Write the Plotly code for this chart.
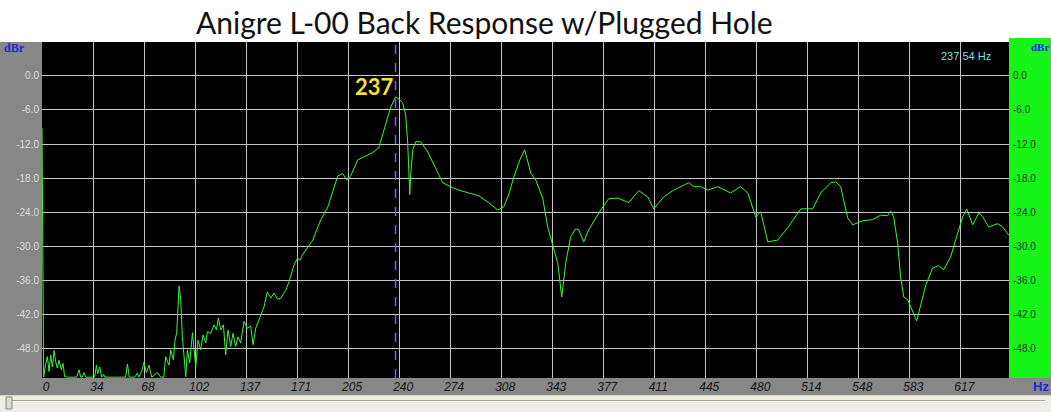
import plotly.graph_objects as go

# ---------------- data ----------------
title_text = "Anigre L-00 Back Response w/Plugged Hole"
cursor_hz = 237.54
cursor_label = "237"
cursor_readout = "237.54 Hz"

freq_hz = [0, 1.1, 2.5, 3.6, 4.7, 5.8, 7.0, 8.1, 9.2, 10.3, 11.4, 13.0, 14.1, 15.2, 16.6,
           23.3, 24.9, 26.0, 27.0, 28.2, 29.4, 35.4, 36.6, 37.4, 38.8, 40.1, 41.5, 42.1,
           56.2, 57.4, 58.6, 62.3, 64.1, 65.0, 67.0, 68.5, 70.1, 71.9, 73.7, 77.5, 79.8,
           81.8, 83.1, 85.3, 86.5, 88.3, 89.4, 90.5, 92.1, 93.2, 94.3, 95.4, 96.6, 97.7,
           99.2, 101.1, 102.1, 103.3, 104.8, 106.6, 108.2, 110.0, 111.1, 113.4, 115.6,
           117.2, 118.5, 120.1, 121.9, 123.4, 125.0, 126.8, 128.3, 130.1, 131.7, 133.5,
           135.7, 138.0, 140.2, 141.8, 143.6, 146.9, 149.2, 151.4, 153.7, 155.9, 158.2,
           160.4, 163.8, 166.0, 169.3, 171.6, 173.4, 175.0, 177.2, 181.9, 187.3, 192.0,
           195.3, 198.7, 202.1, 204.7, 207.4, 212.1, 217.5, 222.2, 226.2, 228.9, 230.9,
           234.3, 237.6, 240.3, 242.3, 244.4, 245.7, 246.4, 247.1, 247.7, 249.1, 251.1,
           254.4, 259.2, 262.5, 265.9, 269.2, 274.6, 280.0, 286.7, 293.4, 300.1, 306.2,
           310.2, 313.6, 317.0, 321.0, 324.3, 328.4, 331.7, 336.4, 339.8, 343.8, 346.5,
           349.2, 351.9, 355.2, 358.6, 360.6, 364.0, 367.3, 375.4, 380.8, 386.8, 394.2,
           400.9, 407.0, 411.0, 417.7, 423.8, 434.5, 437.9, 442.6, 447.3, 454.0, 462.7,
           469.4, 474.2, 479.5, 482.9, 487.6, 494.3, 501.1, 509.8, 517.8, 523.2, 529.9,
           533.3, 536.6, 541.3, 544.7, 551.4, 558.1, 563.5, 568.2, 570.2, 572.2, 574.9,
           576.9, 579.0, 581.7, 583.7, 585.7, 587.7, 590.4, 593.8, 598.4, 602.5, 605.8,
           610.5, 615.3, 618.6, 621.3, 625.3, 629.4, 632.0, 636.1, 642.1, 645.5, 649.5]

level_dbr = [-9.2, -53, -50.6, -49.4, -52.0, -49.1, -51.2, -48.3, -50.3, -51.4, -50.0, -51.7,
             -50.6, -52.9, -53, -53, -51.7, -53, -53, -52.2, -53, -53, -50.9, -52.4, -51.2,
             -53, -52.5, -53, -53, -50.7, -53, -53, -52.3, -53, -52.0, -50.4, -52.2, -50.9,
             -53, -52.2, -53, -53, -49.4, -50.9, -48.2, -50.0, -46.5, -45.2, -36.95, -39.4,
             -45.9, -50.0, -52.9, -48.2, -50.5, -45.2, -47.6, -51.2, -46.5, -48.2, -45.6,
             -47.0, -45.0, -45.3, -43.8, -44.7, -42.6, -44.7, -43.8, -49.1, -44.7, -47.6,
             -45.3, -47.6, -45.9, -47.0, -43.2, -44.4, -44.0, -47.3, -44.4, -42.1, -40.6,
             -38.0, -39.1, -38.2, -39.3, -39.1, -37.7, -36.2, -33.3, -32.1, -32.4, -31.5,
             -30.6, -28.9, -25.3, -23.1, -20.4, -17.6, -17.2, -18.3, -17.6, -14.8, -14.1,
             -13.5, -12.7, -10.4, -8.6, -5.5, -3.7, -4.2, -4.75, -6.9, -11.8, -16.5, -20.9,
             -17.4, -13.0, -11.6, -11.6, -13.4, -15.1, -17.1, -18.8, -19.5, -20.1, -20.6,
             -21.1, -22.3, -23.6, -23.05, -20.9, -17.8, -14.8, -13.0, -17.1, -18.3, -21.5,
             -26.6, -30.3, -32.9, -38.9, -32.9, -28.3, -26.9, -27.1, -29.2, -27.1, -23.6,
             -21.6, -21.5, -22.3, -20.2, -21.3, -23.4, -21.3, -20.2, -18.8, -19.5, -19.5,
             -20.1, -19.5, -20.6, -19.5, -20.6, -24.8, -23.9, -29.2, -28.9, -26.7, -23.4,
             -23.4, -20.6, -18.8, -18.65, -19.5, -25.0, -26.2, -25.5, -25.3, -24.5, -24.6,
             -23.75, -24.8, -29.4, -35.4, -38.9, -39.4, -40.6, -42.1, -43.1, -40.3, -36.8,
             -33.8, -33.4, -34.1, -31.85, -27.6, -24.8, -23.4, -26.2, -24.1, -24.8, -26.6,
             -26.0, -26.6, -28.0]

x_tick_vals = [k * 34.28 for k in range(19)]
x_tick_text = ["0", "34", "68", "102", "137", "171", "205", "240", "274", "308", "343",
               "377", "411", "445", "480", "514", "548", "583", "617"]
y_tick_vals = [6, 0, -6, -12, -18, -24, -30, -36, -42, -48]
y_tick_text = ["6.0", "0.0", "-6.0", "-12.0", "-18.0", "-24.0", "-30.0", "-36.0", "-42.0", "-48.0"]

x_range = [0, 649.7]
y_range = [-53.15, 5.95]

# ---------------- layout geometry ----------------
W, H = 1051, 412
L, R, T, B = 42, 42, 42, 34
PW, PH = W - L - R, H - T - B


def px(x):
    return (x - L) / PW


def py(y):
    return (H - B - y) / PH


def rect(x0, y0, x1, y1, fill, layer="below", line=None):
    return dict(type="rect", xref="paper", yref="paper",
                x0=px(x0), x1=px(x1), y0=py(y1), y1=py(y0),
                fillcolor=fill, line=line or dict(width=0), layer=layer)


fig = go.Figure()
fig.add_trace(go.Scatter(x=freq_hz, y=level_dbr, mode="lines",
                         line=dict(color="#3cf53c", width=1),
                         showlegend=False, hoverinfo="x+y"))
fig.add_trace(go.Scatter(x=[freq_hz[0]], y=[None], yaxis="y2", mode="lines",
                         showlegend=False, hoverinfo="skip"))

shapes = [
    rect(0, 0, W, T - 4, "#ffffff", layer="above"),
    rect(0, T - 4, L + PW, T, "#ffffff", layer="below"),
    rect(L + PW, T - 4, W, H - B, "#17f417"),
    rect(0, 395, W, H, "#efede4"),
    dict(type="line", xref="paper", yref="paper", x0=px(0), x1=px(W), y0=py(395.5), y1=py(395.5),
         line=dict(color="#d6d2c4", width=1), layer="below"),
    dict(type="line", xref="paper", yref="paper", x0=px(12), x1=px(1045), y0=py(400.5), y1=py(400.5),
         line=dict(color="#a4a4a0", width=1), layer="below"),
    dict(type="line", xref="paper", yref="paper", x0=px(12), x1=px(1045), y0=py(401.5), y1=py(401.5),
         line=dict(color="#ffffff", width=1), layer="below"),
    rect(6, 397, 12, 409, "#dcdcd6", line=dict(color="#7c8c7c", width=1)),
    dict(type="line", xref="x", yref="paper", x0=cursor_hz, x1=cursor_hz, y0=0, y1=1,
         line=dict(color="#7b5cff", width=1.5, dash="dash"), layer="above"),
]

annotations = [
    dict(text=title_text, xref="paper", yref="paper", x=px(484), y=py(22),
         xanchor="center", yanchor="middle", showarrow=False,
         font=dict(family="Lato", size=30, color="#111111")),
    dict(text=cursor_label, xref="x", yref="paper", x=cursor_hz, xshift=-21, y=py(87),
         xanchor="center", yanchor="middle", showarrow=False,
         font=dict(family="Lato", size=22, color="#f4e234", weight="bold")),
    dict(text=cursor_readout, xref="paper", yref="paper", x=px(993), y=py(56),
         xanchor="right", yanchor="middle", showarrow=False,
         font=dict(family="Liberation Sans", size=11, color="#7fdfe6")),
    dict(text="dBr", xref="paper", yref="paper", x=px(2), y=py(47.5),
         xanchor="left", yanchor="middle", showarrow=False,
         font=dict(family="Liberation Serif", size=12, color="#2424e0", weight="bold")),
    dict(text="dBr", xref="paper", yref="paper", x=px(1029), y=py(47),
         xanchor="left", yanchor="middle", showarrow=False,
         font=dict(family="Liberation Serif", size=11, color="#2424e0", weight="bold")),
    dict(text="Hz", xref="paper", yref="paper", x=px(1031), y=py(386),
         xanchor="left", yanchor="middle", showarrow=False,
         font=dict(family="Liberation Sans", size=13, color="#2424e0", weight="bold")),
]

fig.update_layout(
    width=W, height=H,
    margin=dict(l=L, r=R, t=T, b=B, pad=0),
    paper_bgcolor="#878787",
    plot_bgcolor="#000000",
    shapes=shapes,
    annotations=annotations,
    showlegend=False,
    xaxis=dict(range=x_range, tickvals=x_tick_vals, ticktext=x_tick_text,
               showgrid=True, gridcolor="#c4c4c4", gridwidth=1, zeroline=False,
               showline=False, ticks="", ticklabelshift=4, ticklabelstandoff=0,
               tickfont=dict(family="Liberation Sans Narrow, Liberation Sans", size=12,
                             color="#151515", style="italic"),
               fixedrange=True),
    yaxis=dict(range=y_range, tickvals=y_tick_vals, ticktext=y_tick_text,
               showgrid=True, gridcolor="#c4c4c4", gridwidth=1, zeroline=False,
               showline=False, ticks="", ticklabelstandoff=2,
               tickfont=dict(family="Liberation Sans", size=10, color="#dcdcdc"),
               fixedrange=True),
    yaxis2=dict(range=y_range, tickvals=y_tick_vals, ticktext=y_tick_text,
                overlaying="y", side="right", showgrid=False, zeroline=False,
                showline=False, ticks="", ticklabelstandoff=3,
                tickfont=dict(family="Liberation Sans", size=10, color="#2a2a2a"),
                fixedrange=True),
)

fig.write_html("out.html", config={"displayModeBar": False},
               post_script="document.body.style.margin='0';")
